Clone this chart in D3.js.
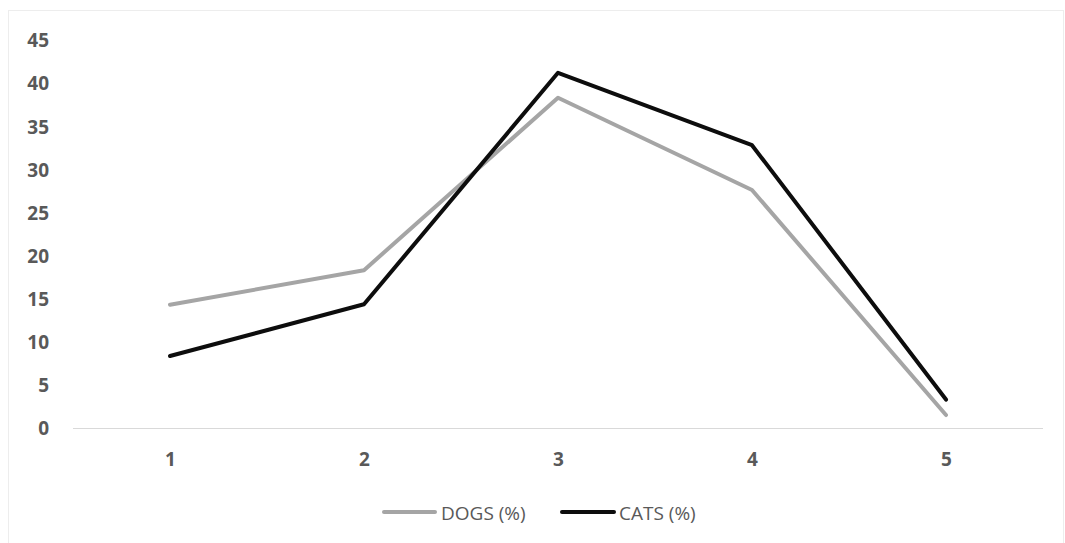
<!DOCTYPE html>
<html>
<head>
<meta charset="utf-8">
<script src="https://cdn.jsdelivr.net/npm/d3@7"></script>
<style>
  html, body { margin: 0; padding: 0; background: #fff; }
  svg { display: block; }
</style>
</head>
<body>
<svg id="chart" width="1065" height="543"></svg>
<script>
// Survey groups along the x axis
const categories = [1, 2, 3, 4, 5];
// Share of respondents per group (%)
const dogs = [14.3, 18.3, 38.3, 27.6, 1.5];
const cats = [8.35, 14.35, 41.2, 32.8, 3.3];
const yTicks = [0, 5, 10, 15, 20, 25, 30, 35, 40, 45];
const seriesNames = ["DOGS (%)", "CATS (%)"];
const seriesColors = ["#A5A5A5", "#0D0D0D"];

const svg = d3.select("#chart");
const W = 1065, H = 543;

// Chart area frame
svg.append("rect")
  .attr("x", 8.5).attr("y", 10.5)
  .attr("width", W - 10).attr("height", H)
  .attr("fill", "#fff").attr("stroke", "#EDEDED").attr("stroke-width", 1);

const plot = { left: 73, right: 1043, top: 40, bottom: 428 };

const x = d3.scalePoint()
  .domain(categories)
  .range([plot.left, plot.right])
  .padding(0.5);

const y = d3.scaleLinear()
  .domain([0, 45])
  .range([plot.bottom, plot.top]);

const labelFont = "'Open Sans', 'Liberation Sans', Arial, sans-serif";
const textColor = "#595959";

// Y axis labels (no axis line)
const yAxis = d3.axisLeft(y).tickValues(yTicks).tickSize(0).tickPadding(0);
const gy = svg.append("g").attr("transform", "translate(49,0)").call(yAxis);
gy.select(".domain").remove();
gy.selectAll("text")
  .attr("fill", textColor)
  .attr("font-family", labelFont)
  .attr("font-weight", "bold")
  .attr("font-size", "19px")
  .attr("x", 0)
  .attr("dy", "0.36em");

// X axis baseline and labels
const xAxis = d3.axisBottom(x).tickSize(0);
const gx = svg.append("g").attr("transform", `translate(0,${plot.bottom})`).call(xAxis);
gx.select(".domain")
  .attr("d", `M${plot.left},0.5H${plot.right}`)
  .attr("stroke", "#D9D9D9").attr("stroke-width", 1);
gx.selectAll("text")
  .attr("fill", textColor)
  .attr("font-family", labelFont)
  .attr("font-weight", "bold")
  .attr("font-size", "19px")
  .attr("y", 38)
  .attr("dy", 0);

// Series lines
const line = d3.line()
  .x((d, i) => x(categories[i]))
  .y(d => y(d));

[dogs, cats].forEach((vals, k) => {
  svg.append("path")
    .datum(vals)
    .attr("d", line)
    .attr("fill", "none")
    .attr("stroke", seriesColors[k])
    .attr("stroke-width", 4)
    .attr("stroke-linecap", "round")
    .attr("stroke-linejoin", "round");
});

// Legend
const legendY = 512;
const legendItems = [
  { x0: 384, x1: 435, tx: 441 },
  { x0: 562, x1: 614, tx: 619 }
];
legendItems.forEach((it, k) => {
  svg.append("line")
    .attr("x1", it.x0).attr("x2", it.x1)
    .attr("y1", legendY).attr("y2", legendY)
    .attr("stroke", seriesColors[k])
    .attr("stroke-width", 4)
    .attr("stroke-linecap", "round");
  svg.append("text")
    .attr("x", it.tx).attr("y", 520)
    .attr("fill", textColor)
    .attr("font-family", labelFont)
    .attr("font-size", "19px")
    .text(seriesNames[k]);
});
</script>
</body>
</html>
